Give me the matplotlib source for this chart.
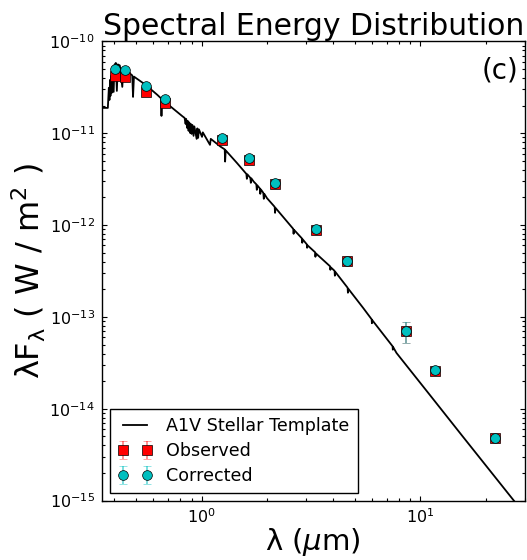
import matplotlib
matplotlib.use("Agg")
import matplotlib.pyplot as plt

# Photometric bands (micron)
band_wave = [0.403, 0.446, 0.558, 0.679, 1.24, 1.65, 2.17, 3.35, 4.60, 8.63, 11.6, 22.0]

# Observed fluxes, lambda*F_lambda (W / m^2)
obs_flux = [4.25e-11, 4.08e-11, 2.84e-11, 2.14e-11, 8.53e-12, 5.14e-12, 2.81e-12,
            8.95e-13, 4.05e-13, 7.0e-14, 2.61e-14, 4.75e-15]
obs_err = [8.0e-13, 8.0e-13, 5.0e-13, 4.0e-13, 1.5e-13, 9.0e-14, 5.0e-14,
           1.5e-14, 7.0e-15, 1.8e-14, 5.0e-16, 1.0e-16]

# Extinction-corrected fluxes
cor_flux = [5.02e-11, 4.86e-11, 3.28e-11, 2.39e-11, 8.91e-12, 5.36e-12, 2.88e-12,
            9.11e-13, 4.09e-13, 7.03e-14, 2.62e-14, 4.76e-15]
cor_err = [9.0e-13, 9.0e-13, 6.0e-13, 4.5e-13, 1.6e-13, 1.0e-13, 5.0e-14,
           1.5e-14, 7.0e-15, 1.8e-14, 5.0e-16, 1.0e-16]

# A1V template spectrum (micron, W / m^2)
template_wave = [0.3293, 0.3733, 0.3773, 0.3797, 0.3821, 0.3837, 0.3861, 0.3886,
                 0.3919, 0.3968, 0.4002, 0.4061, 0.4104, 0.4147, 0.4235, 0.4346,
                 0.4392, 0.4618, 0.4826, 0.4866, 0.4912, 0.5560, 0.6285, 0.6534,
                 0.6562, 0.6597, 0.7227, 0.8194, 0.8368, 0.8456, 0.8509, 0.8590,
                 0.8654, 0.8727, 0.8791, 0.8866, 0.8929, 0.9006, 0.9081, 0.9196,
                 0.9273, 0.9499, 0.9570, 0.9650, 0.9731, 1.0053, 1.0137, 1.0931,
                 1.1022, 1.2204, 1.2763, 1.2816, 1.2897, 1.4537, 1.6026, 1.6111,
                 1.6196, 1.6711, 1.6800, 1.6889, 1.7302, 1.7795, 1.7889, 1.7984,
                 1.8462, 1.8556, 1.8655, 1.9152, 1.9253, 1.9356, 1.9907, 2.1584,
                 2.1674, 2.1764, 2.6230, 2.6340, 2.6449, 2.8728, 2.8848, 2.8968,
                 3.0261, 3.0359, 3.0486, 3.3030, 3.3136, 3.3275, 3.8658, 3.8776,
                 3.8945, 4.0521, 4.0652, 4.0821, 4.6494, 4.6634, 4.6838, 5.4801,
                 5.9841, 6.0021, 6.0284, 7.4578, 7.4801, 7.5111, 7.7764, 11.02,
                 15.63, 26.87, 31.45]
template_flux = [1.890e-11, 1.890e-11, 3.119e-11, 2.309e-11, 3.812e-11, 2.553e-11,
                 4.212e-11, 2.752e-11, 4.896e-11, 2.822e-11, 5.549e-11, 5.834e-11,
                 2.893e-11, 5.619e-11, 5.480e-11, 3.198e-11, 5.083e-11, 4.656e-11,
                 4.266e-11, 2.489e-11, 4.140e-11, 3.363e-11, 2.618e-11, 2.398e-11,
                 1.546e-11, 2.368e-11, 1.952e-11, 1.527e-11, 1.471e-11, 1.266e-11,
                 1.435e-11, 1.145e-11, 1.364e-11, 1.062e-11, 1.314e-11, 1.010e-11,
                 1.266e-11, 9.85e-12, 1.234e-11, 9.37e-12, 1.189e-11, 8.69e-12,
                 1.130e-11, 8.91e-12, 1.102e-11, 9.14e-12, 1.023e-11, 7.48e-12,
                 8.69e-12, 7.16e-12, 6.68e-12, 4.92e-12, 6.51e-12, 4.73e-12,
                 3.61e-12, 3.19e-12, 3.57e-12, 3.27e-12, 2.886e-12, 3.23e-12,
                 2.98e-12, 2.78e-12, 2.42e-12, 2.71e-12, 2.51e-12, 2.19e-12,
                 2.45e-12, 2.246e-12, 1.933e-12, 2.19e-12, 1.967e-12, 1.581e-12,
                 1.361e-12, 1.542e-12, 9.11e-13, 8.04e-13, 8.89e-13, 7.18e-13,
                 6.42e-13, 7.01e-13, 6.18e-13, 5.66e-13, 6.03e-13, 5.06e-13,
                 4.52e-13, 4.93e-13, 3.56e-13, 3.26e-13, 3.47e-13, 3.18e-13,
                 2.81e-13, 3.10e-13, 2.08e-13, 1.834e-13, 2.026e-13, 1.250e-13,
                 9.44e-14, 8.54e-14, 9.21e-14, 4.80e-14, 4.40e-14, 4.68e-14,
                 4.05e-14, 1.423e-14, 4.97e-15, 9.83e-16, 6.06e-16]

fig = plt.figure(figsize=(5.27, 5.6), dpi=100)
ax = fig.add_axes([0.193, 0.106, 0.803, 0.820])

ax.plot(template_wave, template_flux, color='black', lw=1.3,
        label='A1V Stellar Template', zorder=2)
ax.errorbar(band_wave, obs_flux, yerr=obs_err, fmt='s', color='red',
            mfc='red', mec='black', mew=0.5, ms=7, ecolor=(1, 0, 0, 0.5),
            elinewidth=1.2, capsize=3, capthick=1.2, label='Observed', zorder=3)
ax.errorbar(band_wave, cor_flux, yerr=cor_err, fmt='o', color='c',
            mfc=(0, 0.75, 0.75), mec='black', mew=0.5, ms=7,
            ecolor=(0, 0.75, 0.75, 0.6), elinewidth=1.2, capsize=3,
            capthick=1.2, label='Corrected', zorder=4)

ax.set_xscale('log')
ax.set_yscale('log')
ax.set_xlim(0.35, 30)
ax.set_ylim(1e-15, 1e-10)

ax.tick_params(which='both', direction='in', top=True, right=True,
               labelsize=11.5, width=0.8)
ax.tick_params(which='major', length=3.8, pad=5)
ax.tick_params(which='minor', length=2)
for s in ax.spines.values():
    s.set_linewidth(1.0)

ax.set_xlabel('λ ($\\mu$m)', fontsize=21, labelpad=0)
ax.set_ylabel('λF$_\\mathrm{λ}$ ( W / m$^2$ )', fontsize=23, labelpad=1)
ax.set_title('Spectral Energy Distribution', fontsize=21.5, pad=-2)
ax.text(0.985, 0.936, '(c)', transform=ax.transAxes, fontsize=20,
        ha='right', va='center')

leg = ax.legend(loc='lower left', numpoints=2, fontsize=12.6, fancybox=False,
                framealpha=1, edgecolor='black', borderaxespad=0.45,
                handlelength=2.0, handletextpad=0.8, labelspacing=0.4,
                borderpad=0.45)
leg.get_frame().set_linewidth(1.0)

fig.savefig('out.png', dpi=100)
